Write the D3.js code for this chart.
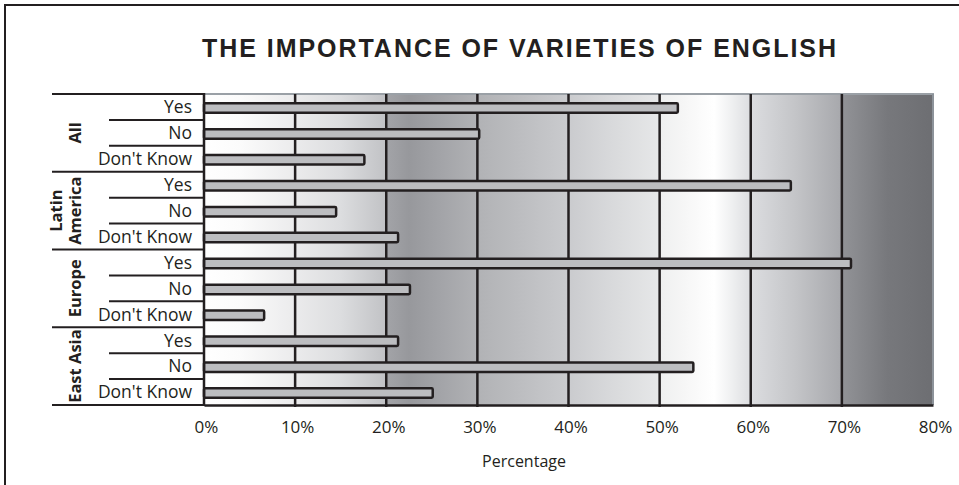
<!DOCTYPE html>
<html>
<head>
<meta charset="utf-8">
<script src="https://cdn.jsdelivr.net/npm/d3@7/dist/d3.min.js"></script>
<style>
  html, body { margin: 0; padding: 0; background: #fff; }
  svg { display: block; }
</style>
</head>
<body>
<svg id="chart" width="959" height="485"></svg>
<script>
// ---- data ----
const title = "THE IMPORTANCE OF VARIETIES OF ENGLISH";
const groups = ["All", "Latin America", "Europe", "East Asia"];
const responses = ["Yes", "No", "Don't Know"];
const allValues = [52.0, 30.2, 17.6];
const latinAmericaValues = [64.4, 14.5, 21.3];
const europeValues = [71.0, 22.6, 6.6];
const eastAsiaValues = [21.3, 53.7, 25.1];
const tickValues = [0, 10, 20, 30, 40, 50, 60, 70, 80];
const tickLabels = ["0%", "10%", "20%", "30%", "40%", "50%", "60%", "70%", "80%"];
const axisTitle = "Percentage";

(function () {
// table built from arrays
const seriesByGroup = [allValues, latinAmericaValues, europeValues, eastAsiaValues];
const rows = [];
groups.forEach((g, gi) => {
  responses.forEach((r, ri) => {
    rows.push({ key: gi + "-" + ri, group: g, gi, response: r, ri, value: seriesByGroup[gi][ri] });
  });
});

// ---- layout ----
const svg = d3.select("#chart");
const ink = "#231f20";
const font = "'Open Sans', 'Noto Sans', sans-serif";
const pLeft = 204, pRight = 933, pTop = 94, pBottom = 405;

const x = d3.scaleLinear().domain([0, 80]).range([pLeft, pRight]);
const y = d3.scaleBand().domain(rows.map(d => d.key)).range([pTop, pBottom]).padding(0);
const bw = y.bandwidth();

// outer frame
svg.append("path")
  .attr("d", "M5,485 L5,5 L959,5")
  .attr("fill", "none").attr("stroke", ink).attr("stroke-width", 2);

// title
svg.append("text")
  .attr("x", 202).attr("y", 57)
  .attr("textLength", 634).attr("lengthAdjust", "spacing")
  .attr("font-family", "'Liberation Sans', Arial, sans-serif")
  .attr("font-weight", "bold").attr("font-size", 25)
  .attr("fill", ink)
  .text(title);

// background gradient (value-based stops)
const gradStops = [
  [0, "#ffffff"], [4, "#fbfbfb"], [10, "#ebebec"], [15, "#dcdddf"], [19.8, "#c2c3c6"],
  [20.2, "#a2a3a7"], [22.5, "#97989c"], [26, "#a3a4a8"], [30, "#b1b2b5"], [35, "#bdbec1"],
  [40, "#cacbce"], [45, "#d9dadc"], [49.8, "#e6e7e8"], [50.2, "#eff0f0"], [53, "#f7f7f7"],
  [56, "#ffffff"], [58, "#eeeff0"], [60, "#dcdde0"], [65, "#c3c4c7"], [69.8, "#a8a9ad"],
  [70.2, "#919296"], [75, "#77787c"], [80, "#6d6e72"]
];
const defs = svg.append("defs");
const grad = defs.append("linearGradient")
  .attr("id", "bg").attr("gradientUnits", "userSpaceOnUse")
  .attr("x1", x(0)).attr("x2", x(80)).attr("y1", 0).attr("y2", 0);
grad.selectAll("stop").data(gradStops).join("stop")
  .attr("offset", d => d[0] / 80)
  .attr("stop-color", d => d[1]);

svg.append("rect")
  .attr("x", x(0)).attr("y", pTop)
  .attr("width", x(80) - x(0)).attr("height", pBottom - pTop)
  .attr("fill", "url(#bg)");

// plot top / right edge (light)
svg.append("line").attr("x1", x(0)).attr("x2", x(80) + 1).attr("y1", pTop).attr("y2", pTop)
  .attr("stroke", "#9aa0a6").attr("stroke-width", 2);
svg.append("line").attr("x1", x(80)).attr("x2", x(80)).attr("y1", pTop).attr("y2", pBottom)
  .attr("stroke", "#8d939a").attr("stroke-width", 2);

// vertical gridlines
svg.append("g").selectAll("line")
  .data(tickValues.filter(v => v > 0 && v < 80)).join("line")
  .attr("x1", d => x(d)).attr("x2", d => x(d))
  .attr("y1", pTop).attr("y2", pBottom + 2)
  .attr("stroke", ink).attr("stroke-width", 2.5);

// bars
const barH = 9.5;
svg.append("g").selectAll("rect")
  .data(rows).join("rect")
  .attr("x", x(0))
  .attr("y", d => y(d.key) + bw / 2 - barH / 2 + 1)
  .attr("width", d => x(d.value) - x(0))
  .attr("height", barH)
  .attr("rx", 1.2)
  .attr("fill", "#bcbdc0")
  .attr("stroke", ink).attr("stroke-width", 2.5);

// bottom axis with labels
const axis = d3.axisBottom(x)
  .tickValues(tickValues)
  .tickFormat((d, i) => tickLabels[i])
  .tickSize(0).tickPadding(16);
const ag = svg.append("g").attr("transform", `translate(0,${pBottom})`).call(axis);
ag.select(".domain").attr("stroke", ink).attr("stroke-width", 2.5);
ag.selectAll("text")
  .attr("font-family", font).attr("font-size", 17)
  .attr("fill", ink).attr("dx", 2);

// left axis line
svg.append("line").attr("x1", pLeft).attr("x2", pLeft).attr("y1", pTop - 1).attr("y2", pBottom + 1)
  .attr("stroke", ink).attr("stroke-width", 2.5);

// separators in label area
const boundaries = d3.range(rows.length + 1);
svg.append("g").selectAll("line")
  .data(boundaries).join("line")
  .attr("x1", i => (i % 3 === 0) ? 52 : 109)
  .attr("x2", pLeft)
  .attr("y1", i => pTop + i * bw).attr("y2", i => pTop + i * bw)
  .attr("stroke", ink).attr("stroke-width", 2);

// response labels
svg.append("g").selectAll("text")
  .data(rows).join("text")
  .attr("x", 192)
  .attr("y", d => y(d.key) + bw / 2)
  .attr("dy", "0.36em")
  .attr("text-anchor", "end")
  .attr("font-family", font).attr("font-size", 17.5)
  .attr("fill", ink)
  .text(d => d.response);

// group labels (rotated)
const gLab = svg.append("g").selectAll("text")
  .data(groups).join("text")
  .attr("transform", (g, gi) => `translate(81,${pTop + (gi * 3 + 1.5) * bw}) rotate(-90)`)
  .attr("text-anchor", "middle")
  .attr("font-family", font).attr("font-weight", "bold").attr("font-size", 16.5)
  .attr("fill", ink);
gLab.each(function(g) {
  const words = g.split(" ");
  const t = d3.select(this);
  if (words.length === 2 && g === "Latin America") {
    t.append("tspan").attr("x", 0).attr("y", -19).text(words[0]);
    t.append("tspan").attr("x", 0).attr("y", 0).text(words[1]);
  } else {
    t.append("tspan").attr("x", 0).attr("y", 0).text(g);
  }
});

// axis title
svg.append("text")
  .attr("x", 524).attr("y", 467)
  .attr("text-anchor", "middle")
  .attr("font-family", font).attr("font-size", 16)
  .attr("fill", ink)
  .text(axisTitle);
})();
</script>
</body>
</html>
